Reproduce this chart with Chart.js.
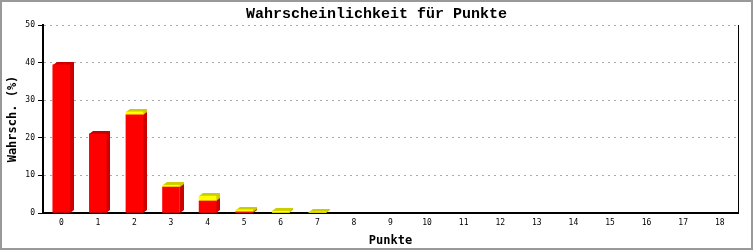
<!DOCTYPE html>
<html>
<head>
<meta charset="utf-8">
<script src="https://cdn.jsdelivr.net/npm/chart.js@4/dist/chart.umd.min.js"></script>
<style>
  html, body { margin: 0; padding: 0; background: #fff; }
  #wrap { width: 749px; height: 246px; border: 2px solid #999; position: relative; }
  canvas { display: block; }
</style>
</head>
<body>
<div id="wrap"><canvas id="chart" width="749" height="246"></canvas></div>
<script>
const points = ["0", "1", "2", "3", "4", "5", "6", "7", "8", "9", "10", "11", "12", "13", "14", "15", "16", "17", "18"];
const redValues = [39.4, 21.0, 26.1, 6.9, 3.2, 0.3, 0, 0, 0, 0, 0, 0, 0, 0, 0, 0, 0, 0, 0];
const yellowValues = [0, 0, 0.8, 0.5, 1.3, 0.55, 0.5, 0.3, 0, 0, 0, 0, 0, 0, 0, 0, 0, 0, 0];
const yTicks = [0, 10, 20, 30, 40, 50];

const DEPTH_X = 4;
const DEPTH_Y = 3;

// draws the darker side and top faces behind each bar
const depthPlugin = {
  id: "depth",
  beforeDatasetsDraw(chart) {
    const ctx = chart.ctx;
    chart.data.datasets.forEach((ds, i) => {
      const meta = chart.getDatasetMeta(i);
      meta.data.forEach((bar, j) => {
        if (!ds.data[j]) return;
        const { x, y, base, width } = bar.getProps(["x", "y", "base", "width"], true);
        const left = Math.round(x - width / 2);
        const right = left + Math.round(width);
        const top = Math.round(y);
        const bottom = Math.round(base);
        ctx.save();
        ctx.fillStyle = ds.depthColor;
        ctx.beginPath();
        ctx.moveTo(right, bottom);
        ctx.lineTo(right, top);
        ctx.lineTo(left, top);
        ctx.lineTo(left + DEPTH_X, top - DEPTH_Y);
        ctx.lineTo(right + DEPTH_X, top - DEPTH_Y);
        ctx.lineTo(right + DEPTH_X, bottom - DEPTH_Y);
        ctx.closePath();
        ctx.fill();
        ctx.restore();
      });
    });
  },
};

new Chart(document.getElementById("chart"), {
  type: "bar",
  data: {
    labels: points,
    datasets: [
      { data: redValues.map((v) => v || null), backgroundColor: "#ff0000", depthColor: "#cc0000", barThickness: 17 },
      { data: yellowValues.map((v) => v || null), backgroundColor: "#ffff00", depthColor: "#cccc00", barThickness: 17 },
    ],
  },
  plugins: [depthPlugin],
  options: {
    responsive: false,
    animation: false,
    layout: { padding: 0 },
    plugins: {
      legend: { display: false },
      tooltip: { enabled: false },
      title: {
        display: true,
        text: "Wahrscheinlichkeit für Punkte",
        color: "#000",
        font: { family: "Liberation Mono", size: 15, lineHeight: 1 },
        padding: { top: 5, bottom: 3 },
      },
    },
    scales: {
      x: {
        stacked: true,
        grid: { display: false, drawTicks: false },
        border: { color: "#000", width: 2 },
        ticks: { color: "#000", font: { family: "DejaVu Sans Mono", size: 8 }, padding: 5, maxRotation: 0 },
        title: {
          display: true,
          text: "Punkte",
          color: "#000",
          font: { family: "DejaVu Sans Mono", size: 12, weight: "bold" },
          padding: { top: 4, bottom: 0 },
        },
        afterFit: (s) => { s.height = 35; },
      },
      y: {
        stacked: true,
        min: 0,
        max: 50,
        afterBuildTicks: (s) => { s.ticks = yTicks.map((v) => ({ value: v })); },
        grid: { color: "#aaa", tickColor: "#000", tickLength: 5, lineWidth: 1 },
        border: { color: "#000", width: 2, dash: [2, 4] },
        ticks: { color: "#000", font: { family: "DejaVu Sans Mono", size: 8 }, padding: 3 },
        title: {
          display: true,
          text: "Wahrsch. (%)",
          color: "#000",
          font: { family: "DejaVu Sans Mono", size: 12, weight: "bold" },
          padding: { top: 4, bottom: 0 },
        },
        afterFit: (s) => { s.width = 41; },
      },
      yRight: {
        position: "right",
        min: 0,
        max: 50,
        grid: { drawOnChartArea: false, drawTicks: false },
        border: { color: "#000", width: 1 },
        ticks: { display: false },
        afterFit: (s) => { s.width = 13; },
      },
    },
  },
});
</script>
</body>
</html>
